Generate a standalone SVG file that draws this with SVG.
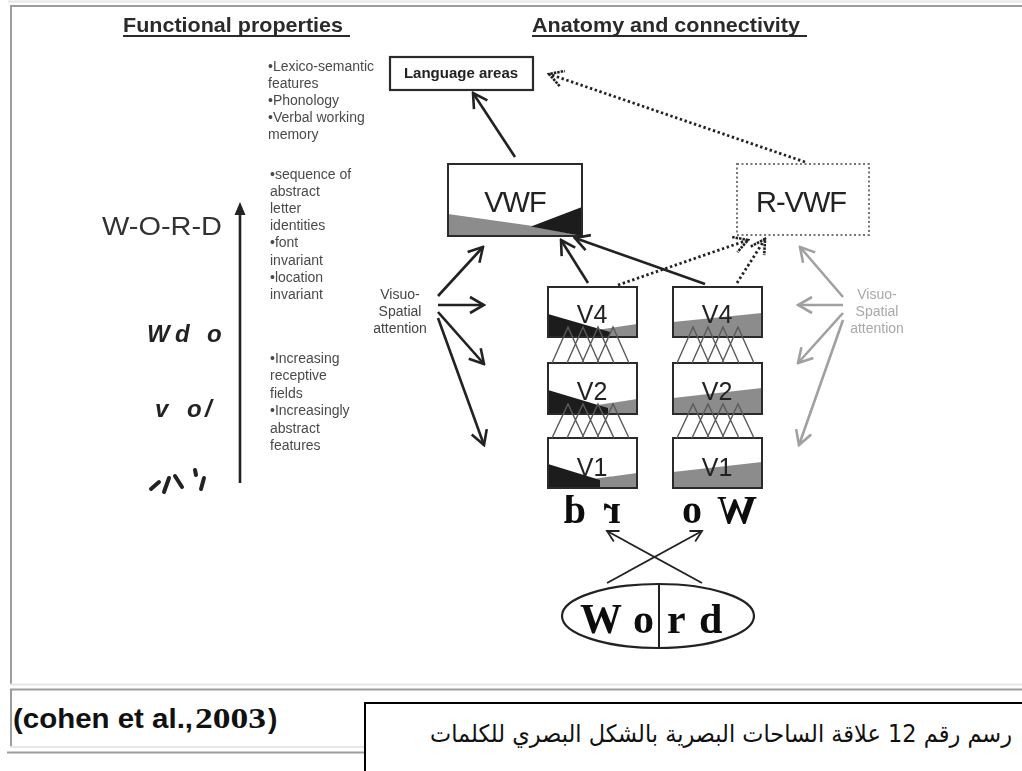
<svg xmlns="http://www.w3.org/2000/svg" width="1022" height="771" viewBox="0 0 1022 771">
  <style>
    .hdr{font-family:"Liberation Sans",Arial,sans-serif;font-weight:bold;font-size:21px;fill:#2a2a2a}
    .note{font-family:"Liberation Sans",Arial,sans-serif;font-size:14px;fill:#4a4a4a}
    .note-g{font-family:"Liberation Sans",Arial,sans-serif;font-size:14px;fill:#a8a8a8;text-anchor:middle}
    .note-c{font-family:"Liberation Sans",Arial,sans-serif;font-size:14px;fill:#444;text-anchor:middle}
    .box{fill:#fff;stroke:none}
    .edge{fill:none;stroke:#2a2a2a;stroke-width:2}
    .vlab{font-family:"Liberation Sans",Arial,sans-serif;font-size:25px;fill:#222;text-anchor:middle}
    .big{font-family:"Liberation Sans",Arial,sans-serif;font-size:29px;fill:#222;text-anchor:middle;letter-spacing:-1px}
    .shade{fill:#8c8c8c}
    .dark{fill:#1c1c1c}
    .mesh{stroke:#5a5a5a;stroke-width:1.4;fill:none}
    .arr{stroke:#222;stroke-width:2.6;fill:none;marker-end:url(#ah)}
    .arr-g{stroke:#a0a0a0;stroke-width:2.6;fill:none;marker-end:url(#ahg)}
    .arr-t{stroke:#222;stroke-width:1.8;fill:none;marker-end:url(#aht)}
    .dot{stroke:#222;stroke-width:2.8;stroke-dasharray:2.4 2.6;fill:none;marker-end:url(#ahd)}
    .serif{font-family:"Liberation Serif","Times New Roman",serif;font-weight:bold;fill:#111}
    .glyph{font-family:"Liberation Sans",Arial,sans-serif;font-weight:bold;font-style:italic;font-size:24px;fill:#222}
    .frame{stroke:#9c9c9c;stroke-width:2;fill:none}
    .frame-l{stroke:#e6e6e6;stroke-width:2;fill:none}
  </style>
  <defs>
    <marker id="ah" viewBox="0 0 20 20" refX="18" refY="10" markerWidth="20" markerHeight="20" markerUnits="userSpaceOnUse" orient="auto">
      <path d="M4,2 L18,10 L4,18" fill="none" stroke="#222" stroke-width="2.6"/>
    </marker>
    <marker id="ahg" viewBox="0 0 20 20" refX="18" refY="10" markerWidth="20" markerHeight="20" markerUnits="userSpaceOnUse" orient="auto">
      <path d="M4,2 L18,10 L4,18" fill="none" stroke="#a0a0a0" stroke-width="2.6"/>
    </marker>
    <marker id="aht" viewBox="0 0 20 20" refX="18" refY="10" markerWidth="20" markerHeight="20" markerUnits="userSpaceOnUse" orient="auto">
      <path d="M7,4 L18,10 L7,16" fill="none" stroke="#222" stroke-width="1.8"/>
    </marker>
    <marker id="ahd" viewBox="0 0 20 20" refX="18" refY="10" markerWidth="20" markerHeight="20" markerUnits="userSpaceOnUse" orient="auto">
      <path d="M4,2 L18,10 L4,18" fill="none" stroke="#222" stroke-width="2.6" stroke-dasharray="2.5 1"/>
    </marker>
    <filter id="soft" x="-2%" y="-2%" width="104%" height="104%">
      <feGaussianBlur stdDeviation="0.45"/>
    </filter>
  </defs>

  <rect width="1022" height="771" fill="#fff"/>

  <!-- table frame around the figure and its caption row -->
  <g id="frame">
    <line class="frame-l" x1="8" y1="1.5" x2="1022" y2="1.5"/>
    <line class="frame" x1="11" y1="6" x2="1022" y2="6"/>
    <line class="frame" x1="11" y1="5" x2="11" y2="684"/>
    <line class="frame-l" x1="10" y1="684.5" x2="1022" y2="684.5"/>
    <line class="frame" x1="10" y1="689.5" x2="1022" y2="689.5"/>
    <line class="frame" x1="11" y1="689" x2="11" y2="748"/>
    <line class="frame-l" x1="10" y1="747" x2="365" y2="747"/>
    <line class="frame" x1="7" y1="752.5" x2="365" y2="752.5"/>
  </g>

  <g id="figure" filter="url(#soft)">
    <!-- column headings -->
    <g id="heading-functional">
      <text class="hdr" x="123" y="32" textLength="220" lengthAdjust="spacingAndGlyphs">Functional properties</text>
      <line x1="123" y1="36" x2="350" y2="36" stroke="#2a2a2a" stroke-width="2"/>
    </g>
    <g id="heading-anatomy">
      <text class="hdr" x="532" y="32" textLength="268" lengthAdjust="spacingAndGlyphs">Anatomy and connectivity</text>
      <line x1="532" y1="36" x2="807" y2="36" stroke="#2a2a2a" stroke-width="2"/>
    </g>

    <!-- functional property notes -->
    <g id="notes-language">
      <text class="note" x="268" y="71">•Lexico-semantic</text>
      <text class="note" x="268" y="88">features</text>
      <text class="note" x="268" y="105">•Phonology</text>
      <text class="note" x="268" y="122">•Verbal working</text>
      <text class="note" x="268" y="139">memory</text>
    </g>
    <g id="notes-vwf">
      <text class="note" x="270" y="179">•sequence of</text>
      <text class="note" x="270" y="196">abstract</text>
      <text class="note" x="270" y="213">letter</text>
      <text class="note" x="270" y="230">identities</text>
      <text class="note" x="270" y="247">•font</text>
      <text class="note" x="270" y="265">invariant</text>
      <text class="note" x="270" y="282">•location</text>
      <text class="note" x="270" y="299">invariant</text>
    </g>
    <g id="notes-early">
      <text class="note" x="270" y="363">•Increasing</text>
      <text class="note" x="270" y="380">receptive</text>
      <text class="note" x="270" y="398">fields</text>
      <text class="note" x="270" y="415">•Increasingly</text>
      <text class="note" x="270" y="433">abstract</text>
      <text class="note" x="270" y="450">features</text>
    </g>

    <!-- hierarchy of letter codes with upward axis -->
    <g id="axis">
      <line x1="240" y1="483" x2="240" y2="213" stroke="#222" stroke-width="2.6"/>
      <path d="M240,202 L245.5,215 L234.5,215 Z" fill="#222"/>
    </g>
    <g id="code-word">
      <text x="222" y="235" text-anchor="end" font-family="'Liberation Sans',Arial,sans-serif" font-size="26" fill="#333" textLength="120" lengthAdjust="spacingAndGlyphs">W-O-R-D</text>
    </g>
    <g id="code-bigrams">
      <text class="glyph" x="147 175 207" y="342">Wdo</text>
    </g>
    <g id="code-letters">
      <text class="glyph" x="155 187 205" y="417">vo/</text>
    </g>
    <g id="code-features" stroke="#222" stroke-width="4" stroke-linecap="round">
      <line x1="151" y1="489" x2="159" y2="482"/>
      <line x1="164" y1="492" x2="169" y2="478"/>
      <line x1="175" y1="476" x2="182" y2="487"/>
      <line x1="195" y1="470" x2="196" y2="475"/>
      <line x1="204" y1="478" x2="201" y2="489"/>
    </g>

    <!-- anatomy nodes -->
    <g id="language-areas">
      <rect x="390" y="57" width="143" height="33" fill="#fff" stroke="#2a2a2a" stroke-width="2.2"/>
      <text x="461" y="78" text-anchor="middle" font-family="'Liberation Sans',Arial,sans-serif" font-weight="bold" font-size="15" fill="#222">Language areas</text>
    </g>

    <g id="vwf">
      <rect class="box" x="448" y="164" width="134" height="72"/>
      <polygon class="shade" points="448,214 533,226 582,236 448,236"/>
      <polygon class="dark" points="531,226.5 582,207 582,236"/>
      <text class="big" x="515" y="212">VWF</text>
      <rect class="edge" x="448" y="164" width="134" height="72"/>
    </g>

    <g id="r-vwf">
      <rect x="737" y="164" width="132" height="71" fill="#fff" stroke="#777" stroke-width="2" stroke-dasharray="2 2.5"/>
      <text class="big" x="801" y="212">R-VWF</text>
    </g>

    <g id="v4-left">
      <rect class="box" x="548" y="287" width="89" height="50"/>
      <polygon class="shade" points="590,331 637,324 637,337 590,337"/>
      <polygon class="dark" points="548,314 610,332 610,337 548,337"/>
      <text class="vlab" x="592" y="323">V4</text>
      <rect class="edge" x="548" y="287" width="89" height="50"/>
    </g>
    <g id="v2-left">
      <rect class="box" x="548" y="363" width="89" height="51"/>
      <polygon class="shade" points="585,407 637,399 637,414 585,414"/>
      <polygon class="dark" points="548,390 608,408 608,414 548,414"/>
      <text class="vlab" x="592" y="400">V2</text>
      <rect class="edge" x="548" y="363" width="89" height="51"/>
    </g>
    <g id="v1-left">
      <rect class="box" x="548" y="438" width="89" height="50"/>
      <polygon class="shade" points="585,480 637,473 637,488 585,488"/>
      <polygon class="dark" points="548,464 600,480 600,488 548,488"/>
      <text class="vlab" x="592" y="476">V1</text>
      <rect class="edge" x="548" y="438" width="89" height="50"/>
    </g>
    <g id="v4-right">
      <rect class="box" x="673" y="287" width="89" height="50"/>
      <polygon class="shade" points="673,322 762,313 762,337 673,337"/>
      <text class="vlab" x="717" y="323">V4</text>
      <rect class="edge" x="673" y="287" width="89" height="50"/>
    </g>
    <g id="v2-right">
      <rect class="box" x="673" y="363" width="89" height="51"/>
      <polygon class="shade" points="673,398 762,388 762,414 673,414"/>
      <text class="vlab" x="717" y="400">V2</text>
      <rect class="edge" x="673" y="363" width="89" height="51"/>
    </g>
    <g id="v1-right">
      <rect class="box" x="673" y="438" width="89" height="50"/>
      <polygon class="shade" points="673,472 762,462 762,488 673,488"/>
      <text class="vlab" x="717" y="476">V1</text>
      <rect class="edge" x="673" y="438" width="89" height="50"/>
    </g>

    <!-- converging receptive-field lines between stages -->
    <g id="receptive-fields" class="mesh">
      <path d="M552,363 L568,327 L584,363 M567,363 L583,327 L599,363 M582,363 L598,327 L614,363 M597,363 L613,327 L629,363"/>
      <path d="M552,438 L568,404 L584,438 M567,438 L583,404 L599,438 M582,438 L598,404 L614,438 M597,438 L613,404 L629,438"/>
      <path d="M677,363 L693,327 L709,363 M692,363 L708,327 L724,363 M707,363 L723,327 L739,363 M722,363 L738,327 L754,363"/>
      <path d="M677,438 L693,404 L709,438 M692,438 L708,404 L724,438 M707,438 L723,404 L739,438 M722,438 L738,404 L754,438"/>
    </g>

    <!-- retinal images of the two half-words -->
    <g id="retinal-left" class="serif" font-size="40">
      <text transform="translate(586,0) scale(-1,1)" x="0" y="523">d</text>
      <text transform="translate(621,0) scale(-1,1)" x="0" y="523">r</text>
    </g>
    <g id="retinal-right" class="serif" font-size="40">
      <text transform="translate(702,0) scale(-1,1)" x="0" y="523">o</text>
      <text transform="translate(757,0) scale(-1,1)" x="0" y="523">W</text>
    </g>

    <!-- the word split at the fixation point -->
    <g id="word-stimulus">
      <ellipse cx="658" cy="616" rx="96" ry="32" fill="#fff" stroke="#222" stroke-width="2.2"/>
      <line x1="659" y1="584" x2="659" y2="648" stroke="#222" stroke-width="2"/>
      <text class="serif" font-size="42" x="580 633 667 699" y="633">Word</text>
    </g>

    <!-- attention labels -->
    <g id="attention-left">
      <text class="note-c" x="400" y="299">Visuo-</text>
      <text class="note-c" x="400" y="316">Spatial</text>
      <text class="note-c" x="400" y="333">attention</text>
    </g>
    <g id="attention-right">
      <text class="note-g" x="877" y="299">Visuo-</text>
      <text class="note-g" x="877" y="316">Spatial</text>
      <text class="note-g" x="877" y="333">attention</text>
    </g>

    <!-- connectors -->
    <g id="connectors">
      <line class="arr" x1="515" y1="157" x2="473" y2="93"/>
      <line class="dot" x1="805" y1="162" x2="549" y2="74"/>

      <line class="arr" x1="588" y1="283" x2="561" y2="240"/>
      <line class="arr" x1="705" y1="284" x2="575" y2="238"/>
      <line class="dot" x1="618" y1="285" x2="748" y2="240"/>
      <line class="dot" x1="737" y1="283" x2="765" y2="239"/>

      <line class="arr" x1="438" y1="296" x2="483" y2="247"/>
      <line class="arr" x1="438" y1="305" x2="484" y2="305"/>
      <line class="arr" x1="438" y1="312" x2="484" y2="364"/>
      <line class="arr" x1="438" y1="318" x2="484" y2="445"/>

      <line class="arr-g" x1="843" y1="297" x2="800" y2="247"/>
      <line class="arr-g" x1="843" y1="305" x2="798" y2="305"/>
      <line class="arr-g" x1="843" y1="313" x2="798" y2="363"/>
      <line class="arr-g" x1="843" y1="320" x2="799" y2="445"/>

      <line class="arr-t" x1="607" y1="583" x2="702" y2="531"/>
      <line class="arr-t" x1="702" y1="583" x2="607" y2="531"/>
    </g>
  </g>

  <!-- caption row -->
  <g id="citation">
    <text x="13" y="728" font-family="'Liberation Sans',Arial,sans-serif" font-weight="bold" font-size="28" fill="#111" textLength="180" lengthAdjust="spacingAndGlyphs">(cohen et al.,</text>
    <text x="195" y="728" font-family="'Liberation Serif','Times New Roman',serif" font-weight="bold" font-size="30" fill="#111" textLength="71" lengthAdjust="spacingAndGlyphs">2003</text>
    <text x="268" y="728" font-family="'Liberation Sans',Arial,sans-serif" font-weight="bold" font-size="28" fill="#111">)</text>
  </g>
  <g id="caption">
    <rect x="365" y="703" width="700" height="100" fill="#fff" stroke="#000" stroke-width="2"/>
    <text x="1012" y="742" text-anchor="end" font-family="'DejaVu Sans',sans-serif" font-size="24" fill="#111" textLength="582" lengthAdjust="spacingAndGlyphs">رسم رقم 12 علاقة الساحات البصرية بالشكل البصري للكلمات</text>
  </g>
</svg>
